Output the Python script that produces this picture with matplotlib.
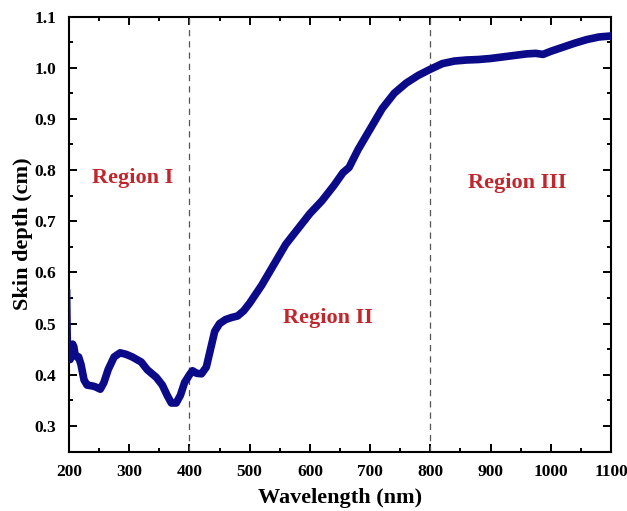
import matplotlib
matplotlib.use("Agg")
import matplotlib.pyplot as plt
from matplotlib.ticker import MultipleLocator, FormatStrFormatter

wavelength = [200, 201, 202, 204, 206, 208, 210, 213, 216, 220, 225, 230, 235, 240, 245, 252, 258,
              265, 275, 285, 295, 305, 320, 330, 345, 355, 363, 370, 378, 385, 392, 400, 405,
              412, 420, 428, 435, 442, 450, 460, 470, 480, 490, 500, 520, 540, 560, 580, 600,
              620, 640, 655, 665, 680, 700, 720, 740, 760, 780, 800, 820, 840, 860, 880, 900,
              920, 940, 960, 975, 987, 1000, 1020, 1040, 1060, 1080, 1100]
skin_depth = [0.565, 0.48, 0.43, 0.455, 0.46, 0.455, 0.44, 0.435, 0.435, 0.42, 0.39, 0.38, 0.379,
              0.378, 0.376, 0.372, 0.385, 0.41, 0.435, 0.443, 0.44, 0.435, 0.425, 0.41, 0.395,
              0.38, 0.36, 0.345, 0.345, 0.36, 0.385, 0.4, 0.408, 0.403, 0.402, 0.415, 0.45,
              0.485, 0.5, 0.508, 0.512, 0.515, 0.525, 0.54, 0.575, 0.615, 0.655, 0.685, 0.715,
              0.74, 0.77, 0.795, 0.805, 0.84, 0.88, 0.92, 0.95, 0.97, 0.985, 0.997, 1.008,
              1.013, 1.015, 1.016, 1.018, 1.021, 1.024, 1.027, 1.028, 1.026, 1.032, 1.04,
              1.048, 1.055, 1.06, 1.062]
boundaries = [400, 800]
region_labels = ["Region I", "Region II", "Region III"]
region_pos = [(306, 0.785), (630, 0.511), (944, 0.775)]

plt.rcParams['font.family'] = ['Liberation Serif', 'DejaVu Serif']
plt.rcParams['font.weight'] = 'bold'

fig = plt.figure(figsize=(6.27, 5.11), dpi=100)
ax = fig.add_axes([0.110, 0.1162, 0.8645, 0.8515])

ax.plot(wavelength[:3], skin_depth[:3], color='#0b0b8a', lw=2, zorder=3)
ax.plot(wavelength[2:], skin_depth[2:], color='#0b0b8a', lw=5.5, solid_capstyle='round',
        solid_joinstyle='round', zorder=3)
for b in boundaries:
    ax.axvline(b, color='#555555', lw=0.9, ls=(0, (5, 4)), zorder=2)
for lab, (x, y) in zip(region_labels, region_pos):
    ax.text(x, y, lab, color='#c0262b', fontsize=16, fontweight='bold',
            ha='center', va='center')

ax.set_xlim(200, 1100)
ax.set_ylim(0.25, 1.1)
ax.xaxis.set_major_locator(MultipleLocator(100))
ax.xaxis.set_minor_locator(MultipleLocator(50))
ax.yaxis.set_major_locator(MultipleLocator(0.1))
ax.yaxis.set_minor_locator(MultipleLocator(0.05))
ax.yaxis.set_major_formatter(FormatStrFormatter('%.1f'))
ax.tick_params(which='both', direction='in', top=True, right=True, width=1.4)
ax.tick_params(which='major', length=6, labelsize=12.5, pad=9)
ax.tick_params(which='minor', length=3)
for lbl in ax.get_xticklabels() + ax.get_yticklabels():
    lbl.set_fontweight('bold')
for s in ax.spines.values():
    s.set_linewidth(1.5)

ax.set_xlabel('Wavelength (nm)', fontsize=16, fontweight='bold', labelpad=6)
ax.set_ylabel('Skin depth (cm)', fontsize=16, fontweight='bold', labelpad=1)

fig.savefig('out.png', dpi=100)
